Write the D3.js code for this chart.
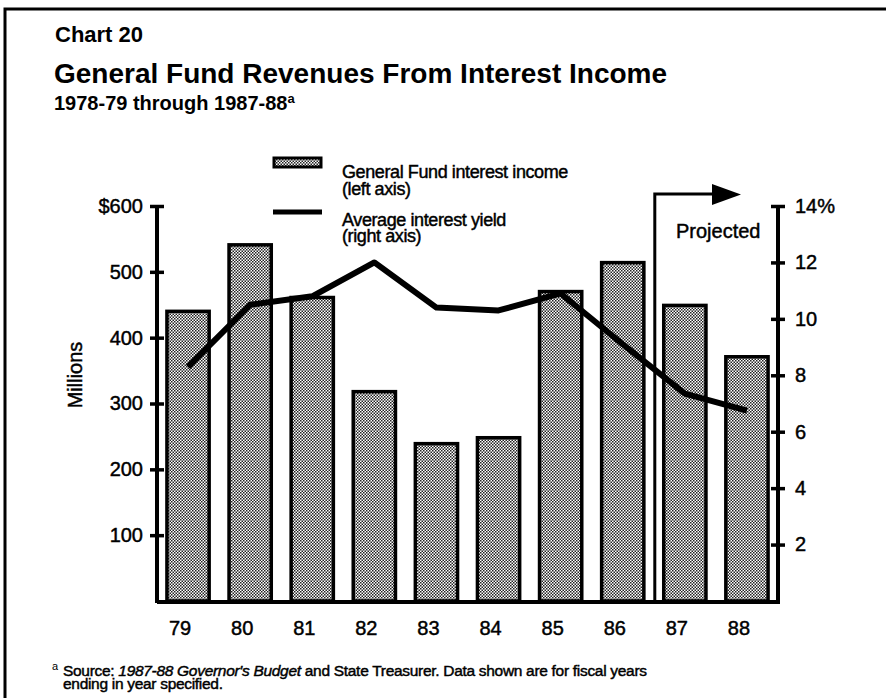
<!DOCTYPE html>
<html>
<head>
<meta charset="utf-8">
<script src="https://cdn.jsdelivr.net/npm/d3@7"></script>
<style>
  html, body { margin: 0; padding: 0; background: #fff; }
  svg { display: block; }
  text { font-family: "Liberation Sans", Arial, Helvetica, sans-serif; fill: #000; }
  .heavy { stroke: #000; stroke-width: 0.45px; }
</style>
</head>
<body>
<svg id="chart" width="886" height="698"></svg>
<script>
// ---- data ----
const years = ["79", "80", "81", "82", "83", "84", "85", "86", "87", "88"];
const interestIncome = [440, 541, 461, 318, 239, 248, 470, 514, 449, 371];   // $ millions (left axis)
const interestYield = [8.3, 10.5, 10.8, 12.0, 10.4, 10.3, 10.9, 9.1, 7.35, 6.75]; // % (right axis)
const leftTicks = [100, 200, 300, 400, 500, 600];
const rightTicks = [2, 4, 6, 8, 10, 12, 14];
const projectedFrom = "87";

const svg = d3.select("#chart");

// halftone pattern
const defs = svg.append("defs");
const pat = defs.append("pattern").attr("id", "dots").attr("patternUnits", "userSpaceOnUse")
  .attr("width", 3).attr("height", 3);
pat.append("rect").attr("width", 3).attr("height", 3).attr("fill", "#fff");
pat.append("rect").attr("x", 0).attr("y", 0).attr("width", 1.5).attr("height", 1.5).attr("fill", "#222");
pat.append("rect").attr("x", 1.5).attr("y", 1.5).attr("width", 1.5).attr("height", 1.5).attr("fill", "#222");

// frame
svg.append("path").attr("d", "M5,698 V9 H886").attr("fill", "none").attr("stroke", "#000").attr("stroke-width", 3);

// titles
svg.append("text").attr("x", 55).attr("y", 42).attr("font-size", 22).attr("font-weight", "bold").text("Chart 20");
svg.append("text").attr("x", 54).attr("y", 83).attr("font-size", 28).attr("font-weight", "bold")
  .text("General Fund Revenues From Interest Income");
const sub = svg.append("text").attr("x", 54).attr("y", 110).attr("font-size", 20).attr("font-weight", "bold");
sub.append("tspan").text("1978-79 through 1987-88");
sub.append("tspan").attr("dy", -7).attr("font-size", 13).text("a");

// scales
const x0 = 157, x1 = 778, yBase = 601, yTop = 206;
const x = d3.scaleBand().domain(years).range([x0, x1]).paddingInner(0.32).paddingOuter(0.16);
const yL = d3.scaleLinear().domain([0, 600]).range([yBase, yTop]);
const yR = d3.scaleLinear().domain([0, 14]).range([yBase, yTop]);

// bars
svg.append("g").selectAll("rect").data(years).join("rect")
  .attr("x", d => x(d))
  .attr("y", (d, i) => yL(interestIncome[i]))
  .attr("width", x.bandwidth())
  .attr("height", (d, i) => yBase - yL(interestIncome[i]))
  .attr("fill", "url(#dots)").attr("stroke", "#000").attr("stroke-width", 3.5);

// projected marker
const px = x(projectedFrom) - (x.step() - x.bandwidth()) / 2 + 1;
svg.append("path").attr("d", `M${px},${yBase} V194 H714`).attr("fill", "none").attr("stroke", "#000").attr("stroke-width", 3);
svg.append("path").attr("d", `M712,184 L741,194.5 L712,205 Z`).attr("fill", "#000");
svg.append("text").attr("class", "heavy").attr("x", 676).attr("y", 238).attr("font-size", 20).text("Projected");

// line
const line = d3.line().x((d, i) => x(years[i]) + x.bandwidth() / 2).y(d => yR(d));
svg.append("path").datum(interestYield).attr("d", line)
  .attr("fill", "none").attr("stroke", "#000").attr("stroke-width", 6).attr("stroke-linejoin", "round");

// left axis
const gL = svg.append("g").attr("transform", `translate(${x0},0)`)
  .call(d3.axisLeft(yL).tickValues(leftTicks).tickSize(7).tickFormat(d => d === 600 ? "$600" : d));
gL.select(".domain").remove();
gL.selectAll(".tick line").attr("x2", 7).attr("x1", -7).attr("stroke-width", 3.5);
gL.selectAll(".tick text").attr("class", "heavy").attr("x", -14).attr("font-size", 20).attr("font-family", "Liberation Sans, Arial, sans-serif");
svg.append("line").attr("x1", x0).attr("x2", x0).attr("y1", yTop).attr("y2", yBase + 2).attr("stroke", "#000").attr("stroke-width", 4);

// right axis
const gR = svg.append("g").attr("transform", `translate(${x1},0)`)
  .call(d3.axisRight(yR).tickValues(rightTicks).tickSize(7).tickFormat(d => d === 14 ? "14%" : d));
gR.select(".domain").remove();
gR.selectAll(".tick line").attr("x1", -7).attr("x2", 7).attr("stroke-width", 3.5);
gR.selectAll(".tick text").attr("class", "heavy").attr("x", 17).attr("font-size", 20).attr("font-family", "Liberation Sans, Arial, sans-serif");
svg.append("line").attr("x1", x1).attr("x2", x1).attr("y1", yTop).attr("y2", yBase + 2).attr("stroke", "#000").attr("stroke-width", 4);

// baseline
svg.append("line").attr("x1", x0).attr("x2", x1 + 2).attr("y1", yBase + 1).attr("y2", yBase + 1).attr("stroke", "#000").attr("stroke-width", 4);

// x axis labels
const gX = svg.append("g").attr("transform", `translate(-8,${yBase})`)
  .call(d3.axisBottom(x).tickSize(0).tickPadding(20));
gX.select(".domain").remove();
gX.selectAll(".tick text").attr("class", "heavy").attr("font-size", 20).attr("font-family", "Liberation Sans, Arial, sans-serif");

// y axis title
svg.append("text").attr("class", "heavy").attr("transform", "translate(82,375) rotate(-90)").attr("text-anchor", "middle")
  .attr("font-size", 20).text("Millions");

// legend
svg.append("rect").attr("x", 274).attr("y", 158).attr("width", 47).attr("height", 9)
  .attr("fill", "url(#dots)").attr("stroke", "#000").attr("stroke-width", 3);
svg.append("line").attr("x1", 273).attr("x2", 322).attr("y1", 212).attr("y2", 212).attr("stroke", "#000").attr("stroke-width", 5);
const legendLines = [
  ["General Fund interest income", 178],
  ["(left axis)", 195],
  ["Average interest yield", 226],
  ["(right axis)", 242]
];
svg.append("g").selectAll("text").data(legendLines).join("text")
  .attr("class", "heavy")
  .attr("x", 342).attr("y", d => d[1]).attr("font-size", 18).attr("letter-spacing", -0.4).text(d => d[0]);

// footnote
svg.append("text").attr("x", 52).attr("y", 670).attr("font-size", 11).text("a");
const fn = svg.append("text").attr("class", "heavy").attr("x", 63).attr("y", 676).attr("font-size", 15.5).attr("letter-spacing", -0.3);
fn.append("tspan").text("Source: ");
fn.append("tspan").attr("font-style", "italic").text("1987-88 Governor's Budget");
fn.append("tspan").text(" and State Treasurer. Data shown are for fiscal years");
svg.append("text").attr("class", "heavy").attr("x", 63).attr("y", 689).attr("font-size", 15.5).attr("letter-spacing", -0.3)
  .text("ending in year specified.");
</script>
</body>
</html>
